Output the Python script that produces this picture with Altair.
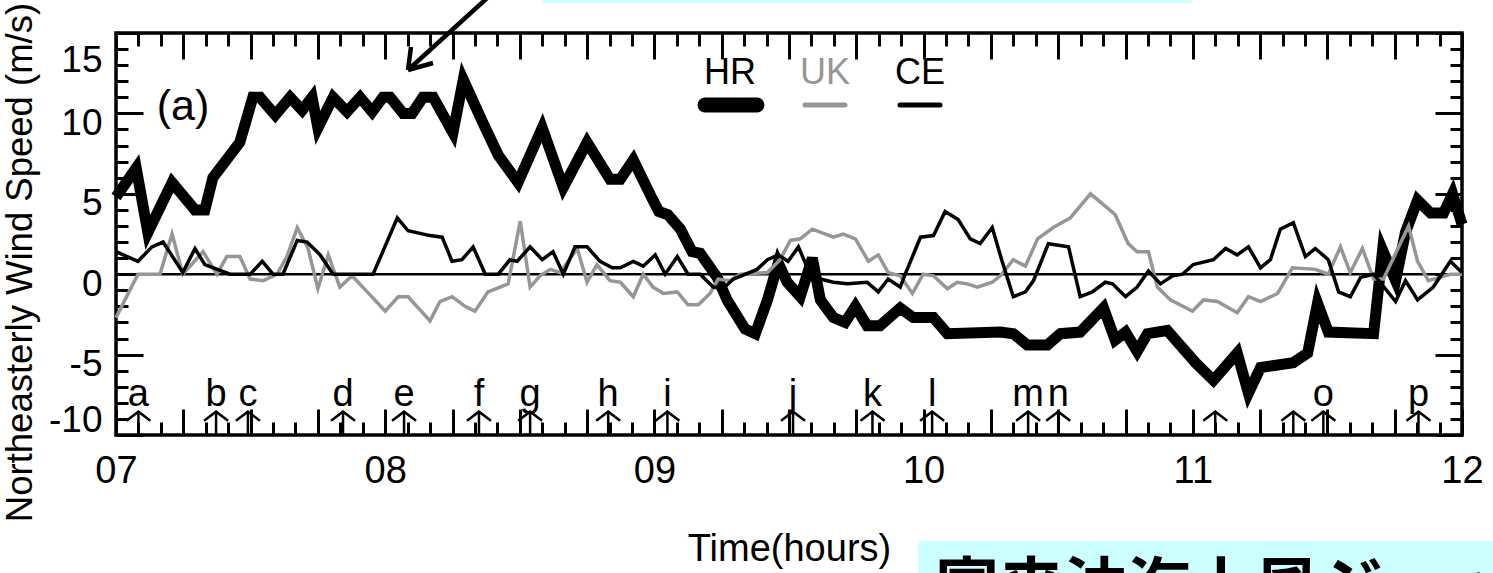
import altair as alt
import pandas as pd

# ---------------- data (minutes after 07:00, m/s) ----------------
hr_t = [0, 4.5, 7.1, 12.5, 17.6, 19.8, 21.6, 27.6, 30.5, 32.1, 35.5, 38.8, 41.5, 43.7, 45.0, 48.4,
        51.5, 54.4, 57.1, 59.5, 61.1, 64.0, 66.0, 68.4, 70.7, 75.1, 77.4, 81.8, 85.2, 89.6, 95.0,
        99.7, 105.0, 110.1, 112.4, 115.3, 119.5, 121.0, 123.0, 125.8, 128.4, 130.2, 134.0, 136.2,
        140.2, 142.5, 145.2, 147.6, 149.6, 152.5, 155.2, 157.0, 159.9, 162.5, 164.8, 167.4, 170.3,
        174.8, 177.7, 182.2, 185.3, 197.1, 200.0, 203.1, 207.6, 210.5, 214.9, 220.1, 222.7, 225.0,
        227.6, 229.9, 234.3, 240.6, 244.6, 249.9, 252.4, 255.1, 262.4, 265.6, 267.8, 270.2, 280.3,
        282.3, 285.2, 287.4, 290.1, 293.0, 295.9, 297.9, 300]
hr_v = [4.8, 6.6, 2.6, 5.7, 4.0, 4.0, 6.0, 8.2, 11.0, 11.0, 9.9, 11.0, 10.2, 11.0, 9.1, 11.0,
        10.1, 11.0, 10.1, 11.0, 11.0, 10.0, 10.0, 11.0, 11.0, 8.8, 12.1, 9.4, 7.4, 5.7, 9.1,
        5.4, 8.2, 5.9, 5.9, 7.1, 4.7, 3.9, 3.7, 2.8, 1.4, 1.3, -0.2, -1.6,
        -3.4, -3.7, -1.6, 0.7, -0.5, -1.4, 1.0, -1.6, -2.7, -3.0, -2.0, -3.2, -3.2,
        -2.1, -2.7, -2.7, -3.7, -3.6, -3.7, -4.4, -4.4, -3.7, -3.6, -2.1, -4.1, -3.6,
        -4.8, -3.7, -3.5, -5.5, -6.6, -4.9, -7.4, -5.8, -5.5, -4.9, -1.8, -3.6, -3.7,
        1.5, -0.4, 2.6, 4.6, 3.8, 3.8, 5.0, 3.1]

uk_t = [0, 4.9, 9.8, 12.5, 14.9, 19.4, 22.5, 24.7, 27.6, 29.9, 32.8, 35.9, 38.1, 40.4, 42.8, 45.0,
        47.3, 49.9, 52.6, 56.0, 60.0, 62.9, 65.1, 70.0, 72.2, 74.9, 77.8, 80.0, 82.9, 85.6, 87.4,
        90.1, 92.3, 94.5, 96.8, 99.0, 102.8, 105.0, 107.2, 110.1, 112.4, 115.3, 117.5, 119.7,
        122.0, 125.1, 127.5, 129.8, 132.4, 134.2, 136.9, 139.1, 145.2, 148.0, 150.3, 152.5,
        155.2, 159.9, 162.1, 164.8, 167.7, 169.9, 172.1, 174.8, 177.5, 179.9, 182.2, 185.3,
        187.5, 189.7, 192.0, 195.3, 197.1, 200.0, 202.7, 205.4, 208.9, 212.7, 217.2, 222.7,
        225.6, 227.6, 230.1, 232.1, 235.0, 239.9, 242.4, 245.5, 249.9, 252.4, 255.1, 258.9,
        262.2, 267.3, 270.2, 272.9, 275.1, 277.8, 280.3, 282.5, 288.1, 290.1, 292.5, 297.4, 300]
uk_v = [-2.7, 0, 0, 2.5, 0, 1.4, 0, 1.1, 1.1, -0.3, -0.4, 0, 1.1, 2.9, 1.6, -0.9,
        1.2, -0.8, -0.1, -1.1, -2.3, -1.4, -1.4, -2.9, -1.7, -1.4, -2.0, -2.3, -1.1, -0.8, -0.6,
        3.3, -0.8, -0.1, 0.3, 0.1, 1.6, -0.5, 0.6, -0.4, -0.5, -1.4, 0, -0.8,
        -1.2, -1.1, -1.9, -1.9, -1.2, -0.3, -0.4, 0, 0.1, 0.9, 2.1, 2.2,
        2.8, 2.3, 2.5, 2.2, 0.8, 1.2, 0.1, -0.1, -1.2, 0, -0.1, -0.9,
        -0.5, -0.6, -0.8, -0.5, -0.1, 0.9, 0.5, 2.2, 2.9, 3.5, 5.0, 3.7,
        1.9, 1.4, 1.4, -0.8, -1.6, -2.3, -1.6, -1.7, -2.4, -1.4, -1.7, -1.2,
        0.4, 0.3, 0, 1.7, 0.1, 1.6, -0.3, -0.3, 3.0, 0.8, -0.4, 0, 0]

ce_t = [0, 4.9, 8.0, 10.5, 14.9, 17.6, 19.8, 25.4, 29.9, 32.6, 35.0, 37.2, 40.4, 42.6, 45.5, 48.4,
        57.3, 62.7, 65.1, 70.0, 72.7, 74.9, 77.1, 79.6, 82.3, 85.2, 87.8, 89.4, 92.3, 95.0, 97.4,
        99.7, 102.3, 105.0, 107.9, 110.6, 112.4, 115.3, 117.5, 120.2, 122.4, 125.1, 127.5, 130.2,
        133.1, 135.3, 137.6, 142.9, 145.2, 147.6, 149.8, 152.1, 154.7, 157.0, 159.9, 163.0, 167.4,
        169.9, 172.1, 174.8, 175.9, 179.3, 182.2, 184.8, 187.7, 190.4, 192.6, 195.3, 197.5, 200.0,
        202.7, 204.5, 207.8, 212.3, 214.9, 217.6, 220.5, 222.1, 225.0, 227.6, 230.1, 232.8, 235.5,
        237.7, 240.1, 244.6, 247.3, 249.9, 252.4, 255.1, 257.3, 259.5, 262.4, 265.1, 267.3, 270.2,
        272.5, 275.1, 277.4, 280.3, 285.2, 287.4, 290.1, 293.6, 297.4, 300]
ce_v = [1.4, 0.8, 1.7, 2.0, 0.1, 1.6, 0.6, 0, 0, 0.8, 0, 0, 2.1, 2.0, 1.2, 0,
        0, 3.5, 2.7, 2.4, 2.3, 0.8, 0.9, 1.7, 0, 0, 0.9, 0.8, 1.7, 0.9, 1.4,
        0, 1.7, 1.7, 0.8, 0.4, 0.4, 0.8, 0.5, 1.2, 0, 1.1, 0, 0,
        -0.8, -0.9, -0.3, 0.3, 0.9, 1.2, 0.8, 1.7, 0, -0.3, -0.5, -0.6, -0.5,
        -1.1, -0.3, -0.8, 0, 2.3, 2.4, 3.9, 3.4, 2.2, 1.9, 2.9, 0.8, -1.4,
        -1.1, -0.4, 1.9, 1.7, -1.4, -1.1, -0.5, -0.6, -1.4, -0.8, 0.2, -0.6, -0.1,
        0, 0.6, 0.9, 1.6, 1.2, 1.7, 0.4, 0.9, 2.8, 3.2, 1.1, 1.6, 0.9,
        -1.1, -1.4, -0.2, 0, -1.7, -0.4, -1.6, -0.8, 0.8, 0.1]

zero_t = [0, 300]
zero_v = [0, 0]

ev_t = [5, 22.3, 29.4, 50.6, 64.2, 80.9, 92.3, 109.7, 122.9, 150.9, 168.6, 181.9,
        203.3, 210.0, 245.0, 262.4, 269.1, 290.3]
ev_lbl = ["a", "b", "c", "d", "e", "f", "g", "h", "i", "j", "k", "l",
          "m", "n", "", "", "o", "p"]

x_hours = ["07", "08", "09", "10", "11", "12"]
y_ticks = [-10, -5, 0, 5, 10, 15]
series_names = ["HR", "UK", "CE"]
caption = "富来沖海上風ジェット"

# ---------------- styling ----------------
FONT = "Liberation Sans"
GRAY = "#969696"
W, H = 1346, 402
xs = alt.Scale(domain=[0, 300], nice=False, zero=False)
ys = alt.Scale(domain=[-10, 15], nice=False, zero=False)

hour_expr = "datum.value % 60 === 0 ? " + str(x_hours) + "[datum.value / 60] : ''"
tick_common = dict(domain=False, grid=False, tickColor="black", tickWidth=3)

ax_bottom_major = alt.Axis(orient="bottom", values=list(range(0, 301, 15)), tickSize=26, offset=-26,
                           labelExpr=hour_expr, labelFont=FONT, labelFontSize=38, labelColor="black",
                           labelPadding=17, labelFlush=False, labelOverlap=False, labelBound=False,
                           title="Time(hours)", titleFont=FONT, titleFontSize=38,
                           titleFontWeight="normal", titleColor="black", titlePadding=40,
                           **tick_common)
ax_bottom_minor = alt.Axis(orient="bottom", values=list(range(0, 301, 5)), tickSize=13, offset=-13,
                           labels=False, **tick_common)
ax_top_major = alt.Axis(orient="top", values=list(range(0, 301, 15)), tickSize=26, offset=-26,
                        labels=False, **tick_common)
ax_top_minor = alt.Axis(orient="top", values=list(range(0, 301, 5)), tickSize=13, offset=-13,
                        labels=False, **tick_common)

ax_left_major = alt.Axis(orient="left", values=y_ticks, tickSize=27, offset=-27,
                         labelExpr="'' + datum.value", labelFont=FONT, labelFontSize=37,
                         labelColor="black", labelPadding=14, labelFlush=False,
                         labelOverlap=False, labelBound=False,
                         labelOffset={"condition": [{"test": "datum.value === 15", "value": 27},
                                                    {"test": "datum.value === -10", "value": -15}],
                                      "value": 10},
                         title="Northeasterly Wind Speed (m/s)", titleFont=FONT, titleFontSize=36.5,
                         titleFontWeight="normal", titleColor="black", titlePadding=9,
                         titleY=229, **tick_common)
ax_left_minor = alt.Axis(orient="left", values=list(range(-10, 16)), tickSize=12, offset=-12,
                         labels=False, **tick_common)
ax_right_major = alt.Axis(orient="right", values=y_ticks, tickSize=27, offset=-27,
                          labels=False, **tick_common)
ax_right_minor = alt.Axis(orient="right", values=list(range(-10, 16)), tickSize=12, offset=-12,
                          labels=False, **tick_common)

df_hr = pd.DataFrame({"t": hr_t, "v": hr_v})
df_uk = pd.DataFrame({"t": uk_t, "v": uk_v})
df_ce = pd.DataFrame({"t": ce_t, "v": ce_v})
df_zero = pd.DataFrame({"t": zero_t, "v": zero_v})
df_ev = pd.DataFrame({"t": ev_t, "lbl": ev_lbl})
one = pd.DataFrame({"k": [0]})

zero = alt.Chart(df_zero).mark_line(color="black", strokeWidth=2.5).encode(
    x=alt.X("t:Q", scale=xs, axis=ax_top_minor, title=None),
    y=alt.Y("v:Q", scale=ys, axis=ax_right_minor, title=None))

hr = alt.Chart(df_hr).mark_line(color="black", strokeWidth=11).encode(
    x=alt.X("t:Q", scale=xs, axis=ax_bottom_major),
    y=alt.Y("v:Q", scale=ys, axis=ax_left_major))

uk = alt.Chart(df_uk).mark_line(color=GRAY, strokeWidth=3.5).encode(
    x=alt.X("t:Q", scale=xs, axis=ax_bottom_minor, title=None),
    y=alt.Y("v:Q", scale=ys, axis=ax_left_minor, title=None))

ce = alt.Chart(df_ce).mark_line(color="black", strokeWidth=3.5).encode(
    x=alt.X("t:Q", scale=xs, axis=ax_top_major, title=None),
    y=alt.Y("v:Q", scale=ys, axis=ax_right_major, title=None))

ev_x = alt.X("t:Q", scale=xs, axis=None)
shafts = alt.Chart(df_ev).mark_rule(color="black", strokeWidth=2.5).encode(
    x=ev_x, y=alt.YDatum(-10, scale=ys, axis=None), y2=alt.Y2Datum(-8.55))
heads = alt.Chart(df_ev).mark_point(shape="M-1,0.75L0,0L1,0.75", size=576, filled=False,
                                    color="black", strokeWidth=2.5, opacity=1).encode(
    x=ev_x, y=alt.YDatum(-8.55, scale=ys, axis=None))
letters = alt.Chart(df_ev).mark_text(font=FONT, fontSize=38, color="black", baseline="alphabetic",
                                     align="center").encode(
    x=ev_x, y=alt.YDatum(-8.2, scale=ys, axis=None), text="lbl:N")

# legend (manual, labels above line samples)
leg_x = {"HR": (589, 641, 614), "UK": (689, 729, 709), "CE": (784, 824, 804)}
leg_style = {"HR": ("black", 15), "UK": (GRAY, 5), "CE": ("black", 5)}
legend_layers = []
for name in series_names:
    x1, x2, xc = leg_x[name]
    col, sw = leg_style[name]
    legend_layers.append(alt.Chart(one).mark_text(text=name, font=FONT, fontSize=36, color=col,
                                                  align="center", baseline="middle").encode(
        x=alt.value(xc), y=alt.value(40)))
    legend_layers.append(alt.Chart(one).mark_rule(color=col, strokeWidth=sw, strokeCap="round").encode(
        x=alt.value(x1), x2=alt.value(x2), y=alt.value(72)))

panel = alt.Chart(one).mark_text(text="(a)", font=FONT, fontSize=43, color="black",
                                 align="center", baseline="middle").encode(
    x=alt.value(67), y=alt.value(74))

# pointer arrow at top
arrow_main = alt.Chart(one).mark_rule(color="black", strokeWidth=4.5).encode(
    x=alt.value(292), y=alt.value(37), x2=alt.value(380), y2=alt.value(-43))
arrow_w1 = alt.Chart(one).mark_rule(color="black", strokeWidth=4.5).encode(
    x=alt.value(292), y=alt.value(37), x2=alt.value(295), y2=alt.value(14))
arrow_w2 = alt.Chart(one).mark_rule(color="black", strokeWidth=4.5).encode(
    x=alt.value(292), y=alt.value(37), x2=alt.value(317), y2=alt.value(30))

# cyan decorations
cyan_top = alt.Chart(one).mark_rect(color="#ccffff").encode(
    x=alt.value(427), x2=alt.value(1076), y=alt.value(-33), y2=alt.value(-30))
cyan_box = alt.Chart(one).mark_rect(color="#ccffff").encode(
    x=alt.value(802), x2=alt.value(1377), y=alt.value(508), y2=alt.value(545))
cap_text = alt.Chart(one).mark_text(text=caption, font="Noto Sans CJK JP", fontSize=64,
                                    fontWeight="bold", color="black", align="left",
                                    baseline="alphabetic").encode(
    x=alt.value(819), y=alt.value(577))

chart = alt.layer(
    cyan_top, cyan_box, cap_text,
    zero, hr, uk, ce, shafts, heads, letters,
    *legend_layers, panel, arrow_main, arrow_w1, arrow_w2
).resolve_axis(x="independent", y="independent").properties(
    width=W, height=H,
    autosize=alt.AutoSizeParams(type="none"),
    padding={"left": 116, "top": 33, "right": 31, "bottom": 138},
    background="white",
).configure_view(stroke="black", strokeWidth=3.5)

chart.save("out.html", embed_options={"renderer": "svg", "actions": False})
